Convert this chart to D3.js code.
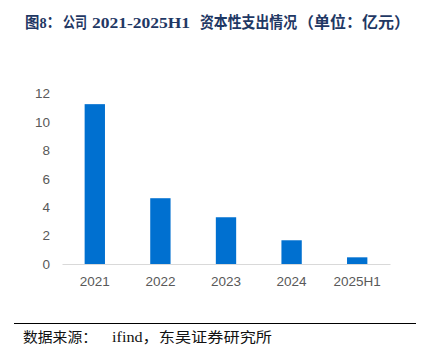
<!DOCTYPE html>
<html>
<head>
<meta charset="utf-8">
<script src="https://cdn.jsdelivr.net/npm/d3@7"></script>
<style>
  body { margin: 0; background: #fff; }
  svg { display: block; }
</style>
</head>
<body>
<svg id="chart"></svg>
<script>
// Data
const categories = ["2021", "2022", "2023", "2024", "2025H1"];
const capex = [11.25, 4.63, 3.29, 1.67, 0.47];
const yTicks = [0, 2, 4, 6, 8, 10, 12];

// title / source pieces with their start and end x in the picture
const titleParts = [
  { t: "图8：", x0: 25, x1: 61 },
  { t: "公司", x0: 63, x1: 87 },
  { t: "2021-2025H1", x0: 92, x1: 190 },
  { t: "资本性支出情况", x0: 200, x1: 297 },
  { t: "（单位：亿元）", x0: 298, x1: 410 }
];
const sourceParts = [
  { t: "数据来源：", x0: 23, x1: 97 },
  { t: "ifind，东吴证券研究所", x0: 112, x1: 272 }
];

const width = 424, height = 354;
const margin = { top: 93.5, right: 34, bottom: 90, left: 62 };

const svg = d3.select("#chart")
    .attr("width", width)
    .attr("height", height);

// Title
svg.append("g")
    .selectAll("text")
    .data(titleParts)
    .join("text")
    .attr("x", d => d.x0)
    .attr("y", 28)
    .attr("textLength", d => d.x1 - d.x0)
    .attr("lengthAdjust", "spacingAndGlyphs")
    .attr("font-family", "'Liberation Serif', 'Noto Sans CJK SC', serif")
    .attr("font-weight", "bold")
    .attr("font-size", 15.5)
    .attr("fill", "#1f3864")
    .text(d => d.t);

const x = d3.scaleBand()
    .domain(categories)
    .range([margin.left, width - margin.right])
    .paddingInner(0.69)
    .paddingOuter(0.345);

const y = d3.scaleLinear()
    .domain([0, 12])
    .range([264, margin.top]);

// Y axis labels (no line)
svg.append("g")
    .attr("transform", `translate(${margin.left - 12},0)`)
    .call(d3.axisLeft(y).tickValues(yTicks).tickSize(0).tickPadding(0))
    .call(g => g.select(".domain").remove())
    .selectAll("text")
    .attr("font-family", "'Liberation Sans', Arial, sans-serif")
    .attr("font-size", 13.5)
    .attr("fill", "#595959");

// Bars
svg.append("g")
    .selectAll("rect")
    .data(capex)
    .join("rect")
    .attr("x", (d, i) => x(categories[i]))
    .attr("y", d => y(d))
    .attr("width", x.bandwidth())
    .attr("height", d => y(0) - y(d))
    .attr("fill", "#0070d0");

// X axis
svg.append("g")
    .attr("transform", `translate(0,${y(0)})`)
    .call(d3.axisBottom(x).tickSize(0).tickPadding(12))
    .call(g => g.select(".domain").attr("stroke", "#d9d9d9").attr("stroke-width", 1))
    .selectAll("text")
    .attr("font-family", "'Liberation Sans', Arial, sans-serif")
    .attr("font-size", 13.5)
    .attr("fill", "#595959");

// Source line and text
svg.append("line")
    .attr("x1", 14)
    .attr("x2", 416)
    .attr("y1", 323.5)
    .attr("y2", 323.5)
    .attr("stroke", "#000")
    .attr("stroke-width", 1.2);

svg.append("g")
    .selectAll("text")
    .data(sourceParts)
    .join("text")
    .attr("x", d => d.x0)
    .attr("y", 342)
    .attr("textLength", d => d.x1 - d.x0)
    .attr("lengthAdjust", "spacingAndGlyphs")
    .attr("font-family", "'Liberation Serif', 'Noto Sans CJK SC', serif")
    .attr("font-size", 14)
    .attr("fill", "#111")
    .text(d => d.t);
</script>
</body>
</html>
